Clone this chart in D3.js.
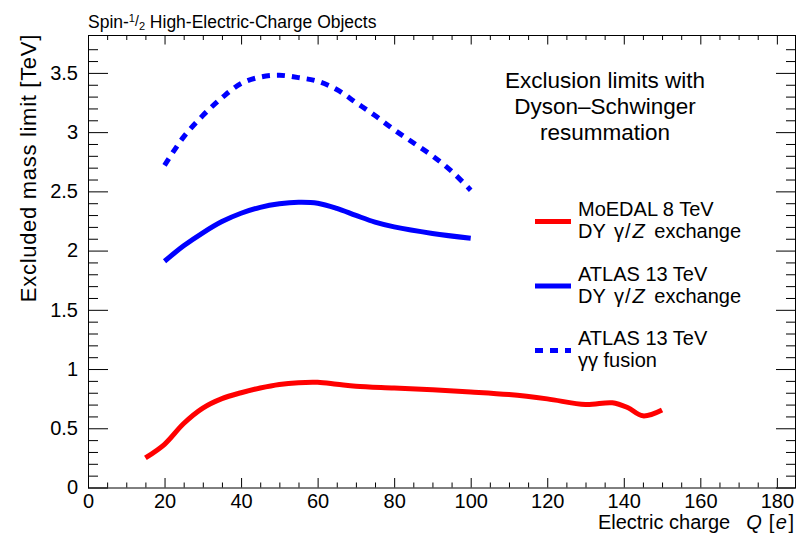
<!DOCTYPE html>
<html><head><meta charset="utf-8">
<script src="https://cdn.jsdelivr.net/npm/d3@7"></script>
<style>body{margin:0;background:#fff}svg{display:block}text{font-family:"Liberation Sans",Arial,Helvetica,sans-serif;fill:#000}</style>
</head><body><svg id="c" width="796" height="544"></svg>
<script>
// ---- data ----
const moedalQ = [15, 20, 25, 30, 35, 40, 45, 50, 55, 60, 65, 70, 80, 90, 100, 110, 120, 130, 137, 141, 145, 150];
const moedalM = [0.25, 0.365, 0.54, 0.67, 0.75, 0.80, 0.84, 0.87, 0.885, 0.888, 0.872, 0.855, 0.84, 0.825, 0.807, 0.785, 0.748, 0.70, 0.715, 0.675, 0.605, 0.655];
const atlasDYQ = [20, 25, 30, 35, 40, 45, 50, 55, 60, 65, 70, 75, 80, 90, 100];
const atlasDYM = [1.91, 2.04, 2.15, 2.245, 2.315, 2.365, 2.395, 2.408, 2.40, 2.357, 2.297, 2.24, 2.20, 2.145, 2.105];
const atlasGGQ = [20, 25, 30, 35, 40, 45, 50, 55, 60, 65, 70, 75, 80, 85, 90, 95, 100];
const atlasGGM = [2.72, 2.96, 3.14, 3.29, 3.41, 3.465, 3.48, 3.46, 3.43, 3.36, 3.25, 3.14, 3.02, 2.91, 2.80, 2.67, 2.51];
const xTicks = [0, 20, 40, 60, 80, 100, 120, 140, 160, 180];
const yTicks = [0, 0.5, 1, 1.5, 2, 2.5, 3, 3.5];
const yTickLabels = ["0", "0.5", "1", "1.5", "2", "2.5", "3", "3.5"];
const seriesNames = [["MoEDAL 8 TeV", "DY γ/Z exchange"], ["ATLAS 13 TeV", "DY γ/Z exchange"], ["ATLAS 13 TeV", "γγ fusion"]];
const seriesColors = ["#ff0000", "#0000ff", "#0000ff"];
const noteLines = ["Exclusion limits with", "Dyson–Schwinger", "resummation"];

// ---- layout ----
const L = 88, R = 796, T = 35, B = 487.5;
const svg = d3.select("#c");
const x = d3.scaleLinear().domain([0, 185]).range([L, R]);
const y = d3.scaleLinear().domain([0, 3.82]).range([B, T]);

const xMinor = d3.range(0, 186, 5).filter(v => v % 20 !== 0);
const yMinor = d3.range(0, 38).map(i => +(i * 0.1).toFixed(1)).filter(v => Math.round(v * 10) % 5 !== 0);

function styleAxis(g) {
  g.select(".domain").remove();
  g.selectAll(".tick line").attr("stroke", "#000").attr("stroke-width", 1);
  g.selectAll(".tick text").style("font-size", "20px").attr("fill", "#000");
}
// bottom
svg.append("g").attr("transform", `translate(0,${B})`)
  .call(d3.axisBottom(x).tickValues(xTicks).tickSize(-9.5).tickPadding(6.5).tickFormat(d3.format("d"))).call(styleAxis);
svg.append("g").attr("transform", `translate(0,${B})`)
  .call(d3.axisBottom(x).tickValues(xMinor).tickSize(-5).tickFormat("")).call(styleAxis);
// top
svg.append("g").attr("transform", `translate(0,${T})`)
  .call(d3.axisTop(x).tickValues(xTicks).tickSize(-9.5).tickFormat("")).call(styleAxis);
svg.append("g").attr("transform", `translate(0,${T})`)
  .call(d3.axisTop(x).tickValues(xMinor).tickSize(-5).tickFormat("")).call(styleAxis);
// left
svg.append("g").attr("transform", `translate(${L},0)`)
  .call(d3.axisLeft(y).tickValues(yTicks).tickSize(-20).tickPadding(10).tickFormat((d, i) => yTickLabels[i])).call(styleAxis);
svg.append("g").attr("transform", `translate(${L},0)`)
  .call(d3.axisLeft(y).tickValues(yMinor).tickSize(-10).tickFormat("")).call(styleAxis);
// right
svg.append("g").attr("transform", `translate(${R - 0.5},0)`)
  .call(d3.axisRight(y).tickValues(yTicks).tickSize(-19.5).tickFormat("")).call(styleAxis);
svg.append("g").attr("transform", `translate(${R - 0.5},0)`)
  .call(d3.axisRight(y).tickValues(yMinor).tickSize(-9.5).tickFormat("")).call(styleAxis);

// frame
svg.append("rect").attr("x", L + 0.5).attr("y", T + 0.5).attr("width", R - L - 1).attr("height", B - T)
  .attr("fill", "none").attr("stroke", "#000").attr("stroke-width", 1);

// curves
const line = d3.line().x(d => x(d[0])).y(d => y(d[1])).curve(d3.curveCatmullRom.alpha(0.5));
const series = [
  {q: moedalQ, m: moedalM, dash: null},
  {q: atlasDYQ, m: atlasDYM, dash: null},
  {q: atlasGGQ, m: atlasGGM, dash: "8,7"}
];
series.forEach((s, i) => {
  svg.append("path").datum(s.q.map((q, j) => [q, s.m[j]]))
    .attr("d", line).attr("fill", "none").attr("stroke", seriesColors[i])
    .attr("stroke-width", 5).attr("stroke-dasharray", s.dash);
});

// legend
const legY = [221.5, 286, 350.5];
function addRich(t, str) {
  if (str.indexOf("/Z") >= 0) {
    const [a, b] = str.split("/Z");
    const pre = a.replace("γ", "");
    t.append("tspan").text(pre);
    t.append("tspan").attr("dx", 3).text("γ");
    t.append("tspan").attr("dx", 1).text("/");
    t.append("tspan").attr("dx", 2).style("font-style", "italic").text("Z");
    t.append("tspan").attr("dx", 4).text(b);
  } else {
    t.append("tspan").text(str);
  }
}
seriesNames.forEach((nm, i) => {
  svg.append("line").attr("x1", 535).attr("x2", 571).attr("y1", legY[i]).attr("y2", legY[i])
    .attr("stroke", seriesColors[i]).attr("stroke-width", 5).attr("stroke-dasharray", series[i].dash);
  nm.forEach((ln, k) => {
    const t = svg.append("text").attr("x", 578).attr("y", legY[i] - 5.5 + k * 22).style("font-size", "20px");
    addRich(t, ln);
  });
});

// note
noteLines.forEach((ln, k) => {
  svg.append("text").attr("x", 605).attr("y", 87.5 + k * 26).attr("text-anchor", "middle")
    .style("font-size", "22.5px").text(ln);
});

// title
const tt = svg.append("text").attr("x", 88).attr("y", 28).style("font-size", "17.5px");
tt.append("tspan").text("Spin-");
tt.append("tspan").attr("dy", -6).style("font-size", "11px").text("1");
tt.append("tspan").attr("dy", 4).style("font-size", "14px").text("/");
tt.append("tspan").attr("dy", 4).style("font-size", "11px").text("2");
tt.append("tspan").attr("dy", -2).text(" High-Electric-Charge Objects");

// axis titles
const xt = svg.append("text").attr("x", 794).attr("y", 528.5).attr("text-anchor", "end").style("font-size", "20px");
xt.append("tspan").text("Electric charge");
xt.append("tspan").attr("dx", 16).style("font-style", "italic").text("Q");
xt.append("tspan").attr("dx", 7).text("[");
xt.append("tspan").attr("dx", 1.5).style("font-style", "italic").text("e");
xt.append("tspan").attr("dx", 1.5).text("]");

svg.append("text").attr("transform", "translate(36,34) rotate(-90)").attr("text-anchor", "end")
  .style("font-size", "22px").style("letter-spacing", "0.7px").text("Excluded mass limit [TeV]");
</script></body></html>
